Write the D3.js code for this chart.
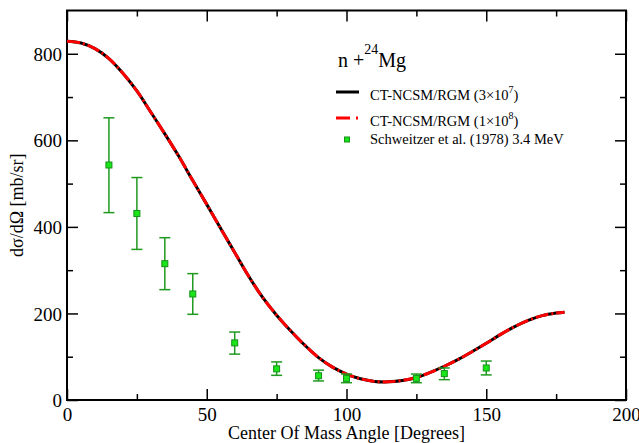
<!DOCTYPE html>
<meta charset="utf-8">
<head>
  <title>n + 24Mg cross section</title>
</head>
<style>
body { margin: 0; background: #fff; }
svg text { font-family: "Liberation Serif", "DejaVu Serif", serif; fill: #000; }
.axis-line { stroke: #000; stroke-width: 2px; fill: none; }
.tick line { stroke: #000; stroke-width: 1.5px; }
.err { stroke: #1f9a1f; stroke-width: 1.5px; }
.pt { fill: #19e619; stroke: #16901a; stroke-width: 1px; }
</style>
<body>
<svg width="639" height="443"></svg>

<script src="https://cdn.jsdelivr.net/npm/d3@7"></script>
<script>
// calculated curves (the two overlap)
var curveAngles = [0, 5, 10, 15, 20, 25, 30, 35, 40, 45, 50, 55, 60, 65, 70, 75, 80, 85, 90, 95,
                   100, 105, 110, 115, 120, 125, 130, 135, 140, 145, 150, 155, 160, 165, 170, 175, 178];
var curve3e7 = [829, 825, 812, 789, 755, 714, 665, 615, 563, 507, 452, 396, 341, 286, 237, 196, 160, 127, 98, 76,
                60, 49, 43, 42, 45, 52, 64, 78, 94, 112, 131, 151, 169, 184, 195, 201, 203];
var curve1e8 = [829, 825, 812, 789, 755, 714, 665, 615, 563, 507, 452, 396, 341, 286, 237, 196, 160, 127, 98, 76,
                60, 49, 43, 42, 45, 52, 64, 78, 94, 112, 131, 151, 169, 184, 195, 201, 203];

// Schweitzer et al. (1978) 3.4 MeV
var expAngles = [15, 25, 35, 45, 60, 75, 90, 100, 125, 135, 150];
var expValues = [543, 431, 315, 245, 132, 72, 56, 50, 50, 61, 74];
var expLow    = [433, 348, 255, 198, 106, 57, 44, 40, 40, 47, 58];
var expHigh   = [652, 514, 375, 292, 157, 88, 69, 60, 60, 74, 90];

var xTicks = [0, 50, 100, 150, 200];
var yTicks = [0, 200, 400, 600, 800];

var svg = d3.select("svg");
var pLeft = 67, pRight = 626, pTop = 10.5, pBottom = 400;

var x = d3.scaleLinear().domain([0, 200]).range([pLeft, pRight]);
var y = d3.scaleLinear().domain([0, 900]).range([pBottom, pTop]);

// axes with inward ticks on all four sides
function ticks(axis, scale, vals, len, labels) {
  return axis(scale).tickValues(vals).tickSizeInner(-len).tickSizeOuter(0)
    .tickFormat(labels ? d3.format("d") : "");
}
var xMinor = d3.range(25, 200, 50), yMinor = d3.range(100, 900, 200);

var gx = svg.append("g").attr("transform", "translate(0," + pBottom + ")");
gx.call(ticks(d3.axisBottom, x, xTicks, 11, true));
gx.append("g").call(ticks(d3.axisBottom, x, xMinor, 6, false));
var gxt = svg.append("g").attr("transform", "translate(0," + pTop + ")");
gxt.call(ticks(d3.axisTop, x, xTicks, 11, false));
gxt.append("g").call(ticks(d3.axisTop, x, xMinor, 6, false));

var gy = svg.append("g").attr("transform", "translate(" + pLeft + ",0)");
gy.call(ticks(d3.axisLeft, y, yTicks, 11, true));
gy.append("g").call(ticks(d3.axisLeft, y, yMinor, 6, false));
var gyr = svg.append("g").attr("transform", "translate(" + pRight + ",0)");
gyr.call(ticks(d3.axisRight, y, yTicks, 11, false));
gyr.append("g").call(ticks(d3.axisRight, y, yMinor, 6, false));

svg.selectAll(".domain").remove();
gx.selectAll("text").attr("font-size", 19).attr("y", 8).attr("dy", "0.71em")
  .attr("font-family", "Liberation Serif");
gy.selectAll("text").attr("font-size", 19).attr("x", -5).attr("dy", "0.35em")
  .attr("font-family", "Liberation Serif");

svg.append("rect").attr("class", "axis-line")
  .attr("x", pLeft).attr("y", pTop).attr("width", pRight - pLeft).attr("height", pBottom - pTop);

// curves
var line = d3.line()
  .x(function(d) { return x(d[0]); })
  .y(function(d) { return y(d[1]); })
  .curve(d3.curveCatmullRom);

svg.append("path")
  .datum(d3.zip(curveAngles, curve3e7))
  .attr("d", line)
  .attr("fill", "none").attr("stroke", "#000").attr("stroke-width", 3);
svg.append("path")
  .datum(d3.zip(curveAngles, curve1e8))
  .attr("d", line)
  .attr("fill", "none").attr("stroke", "#f00").attr("stroke-width", 3)
  .attr("stroke-dasharray", "13,3,2,3");

// experimental points
var exp = d3.range(expAngles.length).map(function(i) {
  return {a: expAngles[i], v: expValues[i], lo: expLow[i], hi: expHigh[i]};
});
var g = svg.append("g");
g.selectAll("line.bar").data(exp).enter().append("line").attr("class", "err")
  .attr("x1", function(d) { return x(d.a); }).attr("x2", function(d) { return x(d.a); })
  .attr("y1", function(d) { return y(d.lo); }).attr("y2", function(d) { return y(d.hi); });
["lo", "hi"].forEach(function(k) {
  g.selectAll("line.cap" + k).data(exp).enter().append("line").attr("class", "err cap" + k)
    .attr("x1", function(d) { return x(d.a) - 5.5; }).attr("x2", function(d) { return x(d.a) + 5.5; })
    .attr("y1", function(d) { return y(d[k]); }).attr("y2", function(d) { return y(d[k]); });
});
g.selectAll("rect").data(exp).enter().append("rect").attr("class", "pt")
  .attr("x", function(d) { return x(d.a) - 3; })
  .attr("y", function(d) { return y(d.v) - 3; })
  .attr("width", 6).attr("height", 6);

// axis titles
svg.append("text").attr("x", (pLeft + pRight) / 2).attr("y", 439)
  .attr("text-anchor", "middle").attr("font-size", 18)
  .text("Center Of Mass Angle [Degrees]");
svg.append("text").attr("transform", "translate(23," + ((pTop + pBottom) / 2) + ") rotate(-90)")
  .attr("text-anchor", "middle").attr("font-size", 18)
  .text("dσ/dΩ [mb/sr]");

// legend
var t = svg.append("text").attr("x", 338).attr("y", 67).attr("font-size", 20);
t.append("tspan").text("n +");
t.append("tspan").attr("font-size", 14).attr("dy", -13).text("24");
t.append("tspan").attr("dy", 13).text("Mg");

function legText(yy, pre, sup) {
  var lt = svg.append("text").attr("x", 370).attr("y", yy).attr("font-size", 14.5);
  lt.append("tspan").text(pre);
  if (sup) {
    lt.append("tspan").attr("font-size", 10).attr("dy", -7).text(sup);
    lt.append("tspan").attr("dy", 7).text(")");
  }
}
svg.append("line").attr("x1", 336).attr("x2", 359).attr("y1", 92).attr("y2", 92)
  .attr("stroke", "#000").attr("stroke-width", 3);
legText(100, "CT-NCSM/RGM (3×10", "7");
svg.append("line").attr("x1", 336).attr("x2", 359).attr("y1", 118).attr("y2", 118)
  .attr("stroke", "#f00").attr("stroke-width", 3).attr("stroke-dasharray", "14,6,2,3");
legText(126, "CT-NCSM/RGM (1×10", "8");
svg.append("rect").attr("class", "pt").attr("x", 344.5).attr("y", 137).attr("width", 5).attr("height", 5);
legText(144, "Schweitzer et al. (1978) 3.4 MeV");
</script>
</body>
</html>
